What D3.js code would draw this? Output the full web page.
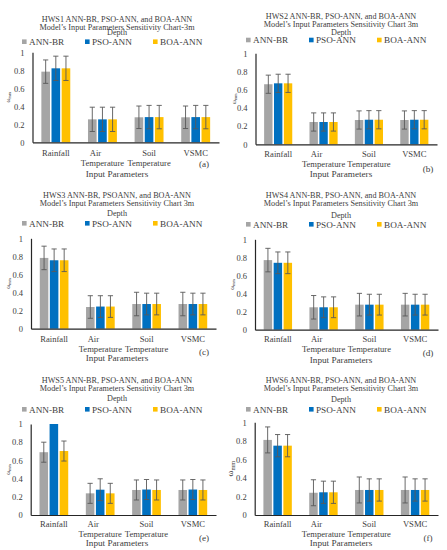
<!DOCTYPE html>
<html>
<head>
<meta charset="utf-8">
<script src="https://cdn.jsdelivr.net/npm/d3@7"></script>
<style>
  body { margin: 0; background: #fff; }
  svg text { font-family: "Liberation Serif", "Times New Roman", serif; fill: #404040; }
</style>
</head>
<body>
<div id="chart"></div>
<script>
// data
const categories = ["Rainfall", "Air Temperature", "Soil Temperature", "VSMC"];
const seriesNames = ["ANN-BR", "PSO-ANN", "BOA-ANN"];
const seriesColors = ["#A5A5A5", "#0070C0", "#FFC000"];
const yTicks = [0, 0.2, 0.4, 0.6, 0.8, 1];
const yTickLabels = ["0", "0.2", "0.4", "0.6", "0.8", "1"];
const panelLetters = ["(a)", "(b)", "(c)", "(d)", "(e)", "(f)"];

const titleLines1 = [
  "HWS1 ANN-BR, PSO-ANN, and BOA-ANN",
  "HWS2 ANN-BR, PSO-ANN, and BOA-ANN",
  "HWS3 ANN-BR, PSOANN, and BOA-ANN",
  "HWS4 ANN-BR, PSO-ANN, and BOA-ANN",
  "HWS5 ANN-BR, PSO-ANN, and BOA-ANN",
  "HWS6 ANN-BR, PSO-ANN, and BOA-ANN"
];
const titleLines2 = [
  "Model’s Input Parameters Sensitivity Chart-3m",
  "Model’s Input Parameters Sensitivity Chart 3m",
  "Model’s Input Parameters Sensitivity Chart 3m",
  "Model’s Input Parameters Sensitivity Chart 3m",
  "Model’s Input Parameters Sensitivity Chart 3m",
  "Model’s Input Parameters Sensitivity Chart 3m"
];

// values per series: ANN-BR, PSO-ANN, BOA-ANN (one entry per category)
const hws1Values = [[0.785, 0.255, 0.278, 0.278], [0.822, 0.255, 0.28, 0.28], [0.822, 0.255, 0.28, 0.28]];
const hws1Errors = [[0.13, 0.135, 0.125, 0.125], [0.135, 0.135, 0.13, 0.13], [0.135, 0.135, 0.13, 0.13]];
const hws2Values = [[0.66, 0.245, 0.267, 0.267], [0.67, 0.245, 0.27, 0.27], [0.67, 0.245, 0.27, 0.27]];
const hws2Errors = [[0.1, 0.1, 0.1, 0.1], [0.1, 0.1, 0.1, 0.1], [0.1, 0.1, 0.1, 0.1]];
const hws3Values = [[0.783, 0.24, 0.273, 0.273], [0.757, 0.245, 0.273, 0.273], [0.757, 0.245, 0.273, 0.273]];
const hws3Errors = [[0.13, 0.125, 0.13, 0.13], [0.125, 0.12, 0.12, 0.12], [0.125, 0.12, 0.12, 0.12]];
const hws4Values = [[0.77, 0.248, 0.277, 0.277], [0.74, 0.248, 0.277, 0.277], [0.74, 0.248, 0.277, 0.277]];
const hws4Errors = [[0.13, 0.13, 0.125, 0.125], [0.12, 0.115, 0.115, 0.115], [0.12, 0.115, 0.115, 0.115]];
const hws5Values = [[0.69, 0.238, 0.275, 0.275], [1.0, 0.278, 0.28, 0.28], [0.703, 0.238, 0.275, 0.275]];
const hws5Errors = [[0.11, 0.11, 0.11, 0.11], [0, 0.12, 0.11, 0.11], [0.11, 0.11, 0.11, 0.11]];
const hws6Values = [[0.81, 0.24, 0.27, 0.27], [0.748, 0.245, 0.27, 0.27], [0.748, 0.245, 0.27, 0.27]];
const hws6Errors = [[0.14, 0.14, 0.14, 0.14], [0.12, 0.12, 0.12, 0.12], [0.12, 0.12, 0.12, 0.12]];

const allValues = [hws1Values, hws2Values, hws3Values, hws4Values, hws5Values, hws6Values];
const allErrors = [hws1Errors, hws2Errors, hws3Errors, hws4Errors, hws5Errors, hws6Errors];

// panel placement (pixel layout of the figure)
const layouts = [
  { x0: 0,   left: 32.5, right: 219, top: 52.3,  bottom: 142.3, t: [19, 26.7, 32.6],   leg: 41.7,  cat: 11, xt: 31,   let: [204, 163.3], yl: 8,   yfs: 6 },
  { x0: 224, left: 255.5, right: 437, top: 53.3, bottom: 144.3, t: [16, 24, 32.3],     leg: 40,    cat: 10, xt: 29,   let: [428, 168.3], yl: 234, yfs: 6 },
  { x0: 0,   left: 31,   right: 216, top: 238.3, bottom: 328.7, t: [195, 202.7, 213.3], leg: 223.3, cat: 10.6, xt: 29, let: [204, 351.7], yl: 8,   yfs: 6 },
  { x0: 224, left: 255,  right: 438, top: 239.3, bottom: 329.7, t: [195, 202.7, 215],   leg: 224.3, cat: 9.6, xt: 29.6, let: [428, 352.3], yl: 232, yfs: 6 },
  { x0: 0,   left: 30.7, right: 216, top: 424,   bottom: 515,   t: [380, 388.3, 398.3], leg: 409.3, cat: 9.3, xt: 27.7, let: [204, 537.7], yl: 8,   yfs: 6 },
  { x0: 224, left: 254.7, right: 438, top: 422.3, bottom: 515,  t: [380, 387.7, 399.3], leg: 409.3, cat: 9.3, xt: 27.7, let: [428, 537.7], yl: 230, yfs: 9 }
];
const legendOffsets = [22, 85, 153];

const svg = d3.select("#chart").append("svg")
  .attr("width", 447).attr("height", 550);

layouts.forEach((L, p) => {
  const g = svg.append("g");
  const cx = L.x0 + 117;

  // title
  [titleLines1[p], titleLines2[p], "Depth"].forEach((s, i) => {
    g.append("text").attr("x", cx).attr("y", L.t[i]).attr("dy", "0.35em")
      .attr("text-anchor", "middle").attr("font-size", 8.2).text(s);
  });

  // legend
  seriesNames.forEach((name, i) => {
    const lx = L.x0 + legendOffsets[i];
    g.append("rect").attr("x", lx).attr("y", L.leg - 2.3).attr("width", 4.6).attr("height", 4.6)
      .attr("fill", seriesColors[i]);
    g.append("text").attr("x", lx + 7).attr("y", L.leg).attr("dy", "0.35em")
      .attr("font-size", 9.2).text(name);
  });

  const x = d3.scaleBand().domain(categories).range([L.left, L.right])
    .paddingInner(0.38).paddingOuter(0.19);
  const xs = d3.scaleBand().domain(seriesNames).range([0, x.bandwidth()]).paddingInner(0.15);
  const y = d3.scaleLinear().domain([0, 1]).range([L.bottom, L.top]);

  // y axis
  const ya = g.append("g").attr("transform", `translate(${L.left},0)`)
    .call(d3.axisLeft(y).tickValues(yTicks).tickFormat((d, i) => yTickLabels[i]).tickSize(0).tickPadding(8));
  ya.select(".domain").attr("stroke", "#262626").attr("stroke-width", 1.2);
  ya.selectAll("text").attr("font-size", 8.5).attr("fill", "#404040")
    .attr("font-family", "Liberation Serif, serif");

  // bars
  const vals = allValues[p], errs = allErrors[p];
  seriesNames.forEach((name, s) => {
    const data = categories.map((c, k) => ({ c, v: vals[s][k], e: errs[s][k] }));
    g.selectAll(null).data(data).enter().append("rect")
      .attr("x", d => x(d.c) + xs(name))
      .attr("y", d => y(d.v))
      .attr("width", xs.bandwidth())
      .attr("height", d => y(0) - y(d.v))
      .attr("fill", seriesColors[s]);
    const eb = g.selectAll(null).data(data.filter(d => d.e > 0)).enter().append("g")
      .attr("stroke", "#595959").attr("stroke-width", 0.9);
    const mid = d => x(d.c) + xs(name) + xs.bandwidth() / 2;
    eb.append("line").attr("x1", mid).attr("x2", mid)
      .attr("y1", d => y(d.v + d.e)).attr("y2", d => y(d.v - d.e));
    eb.append("line").attr("x1", d => mid(d) - 2.6).attr("x2", d => mid(d) + 2.6)
      .attr("y1", d => y(d.v + d.e)).attr("y2", d => y(d.v + d.e));
    eb.append("line").attr("x1", d => mid(d) - 2.6).attr("x2", d => mid(d) + 2.6)
      .attr("y1", d => y(d.v - d.e)).attr("y2", d => y(d.v - d.e));
  });

  // x axis
  const xa = g.append("g").attr("transform", `translate(0,${L.bottom})`)
    .call(d3.axisBottom(x).tickSize(0).tickFormat(""));
  xa.select(".domain").attr("stroke", "#262626").attr("stroke-width", 1.2);

  categories.forEach(c => {
    const parts = c.split(" ");
    const mx = x(c) + x.bandwidth() / 2;
    parts.forEach((s, i) => {
      g.append("text").attr("x", mx + (i === 0 && parts.length > 1 && s === "Air" ? -7 : 0))
        .attr("y", L.bottom + L.cat + i * 10).attr("dy", "0.35em")
        .attr("text-anchor", "middle").attr("font-size", 8.6).text(s);
    });
  });

  g.append("text").attr("x", cx).attr("y", L.bottom + L.xt).attr("dy", "0.35em")
    .attr("text-anchor", "middle").attr("font-size", 9.2).text("Input Parameters");

  g.append("text").attr("x", L.let[0]).attr("y", L.let[1]).attr("dy", "0.35em")
    .attr("text-anchor", "middle").attr("font-size", 9.2).text(panelLetters[p]);

  // y label
  const yc = (L.top + L.bottom) / 2;
  const yt = g.append("text").attr("transform", `translate(${L.yl},${yc}) rotate(-90)`)
    .attr("text-anchor", "middle").attr("dy", "0.35em").attr("font-size", L.yfs);
  yt.append("tspan").text("ω");
  yt.append("tspan").attr("font-size", L.yfs * 0.7).attr("dy", "0.25em").text("mm");
});
</script>
</body>
</html>
